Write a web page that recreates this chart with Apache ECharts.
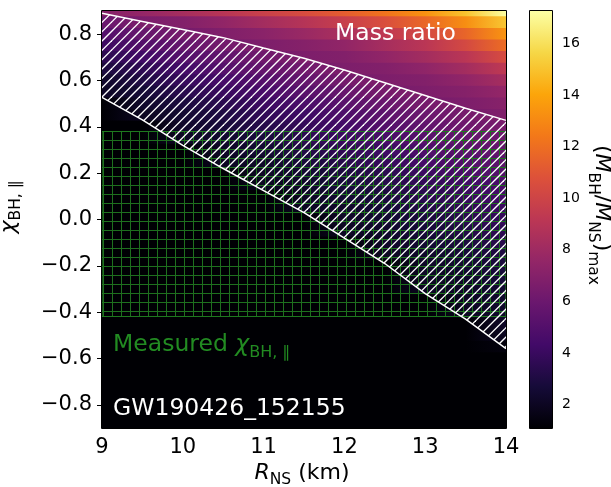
<!DOCTYPE html>
<html>
<head>
<meta charset="utf-8">
<title>Mass ratio</title>
<script src="https://cdn.jsdelivr.net/npm/echarts@6.0.0/dist/echarts.min.js"></script>
<style>
  html, body { margin: 0; padding: 0; background: #fff; }
  #main { width: 611px; height: 487px; }
</style>
</head>
<body>
<div id="main"></div>
<script>
var FONT = 'DejaVu Sans';

// neutron star radius columns (km)
var radius = [9, 9.5, 10, 10.5, 11, 11.5, 12, 12.5, 13, 13.5, 14];
// black hole aligned spin rows, top to bottom
var chiRows = [0.9, 0.85, 0.8, 0.75, 0.7, 0.65, 0.6, 0.55, 0.5, 0.45, 0.4, 0.35, 0.3, 0.25, 0.2, 0.15, 0.1, 0.05, 0,
  -0.05, -0.1, -0.15, -0.2, -0.25, -0.3, -0.35, -0.4, -0.45, -0.5, -0.55, -0.6, -0.65, -0.7, -0.75, -0.8, -0.85, -0.9];
// (M_BH/M_NS)_max : one line per chi row, one value per radius column
var massRatio = [
  [7.0, 7.6, 8.3, 9.0, 9.8, 10.5, 11.3, 12.2, 13.3, 15.0, 17.2],
  [5.9, 6.6, 6.9, 7.5, 8.2, 8.9, 9.7, 10.6, 11.7, 13.2, 15.1],
  [5.0, 5.8, 6.4, 6.8, 7.2, 7.8, 8.5, 9.3, 10.3, 11.6, 13.4],
  [4.1, 5.0, 5.7, 6.3, 6.7, 7.0, 7.5, 8.3, 9.1, 10.3, 11.9],
  [3.5, 4.3, 5.1, 5.6, 6.2, 6.7, 6.9, 7.5, 8.2, 9.1, 10.5],
  [2.9, 3.6, 4.4, 5.1, 5.7, 6.2, 6.7, 6.9, 7.4, 8.2, 9.3],
  [2.3, 3.1, 3.9, 4.5, 5.1, 5.7, 6.3, 6.7, 6.9, 7.5, 8.3],
  [2.1, 2.6, 3.4, 4.0, 4.6, 5.2, 5.8, 6.4, 6.7, 7.0, 7.6],
  [1.1, 2.3, 2.9, 3.5, 4.1, 4.7, 5.3, 5.9, 6.4, 6.7, 7.1],
  [1.1, 2.0, 2.5, 3.1, 3.7, 4.2, 4.8, 5.4, 6.0, 6.4, 6.8],
  [1.1, 1.1, 2.3, 2.8, 3.3, 3.8, 4.4, 5.0, 5.6, 6.1, 6.5],
  [1.1, 1.1, 2.1, 2.4, 2.9, 3.5, 4.1, 4.6, 5.2, 5.7, 6.1],
  [1.1, 1.1, 1.1, 2.2, 2.6, 3.1, 3.7, 4.2, 4.8, 5.3, 5.8],
  [1.1, 1.1, 1.1, 2.0, 2.3, 2.8, 3.4, 3.9, 4.5, 5.0, 5.4],
  [1.1, 1.1, 1.1, 1.1, 2.2, 2.5, 3.0, 3.5, 4.1, 4.7, 5.1],
  [1.1, 1.1, 1.1, 1.1, 2.0, 2.3, 2.8, 3.3, 3.8, 4.3, 4.7],
  [1.1, 1.1, 1.1, 1.1, 1.1, 2.1, 2.5, 2.9, 3.5, 4.0, 4.5],
  [1.1, 1.1, 1.1, 1.1, 1.1, 2.0, 2.3, 2.7, 3.2, 3.7, 4.1],
  [1.1, 1.1, 1.1, 1.1, 1.1, 1.1, 2.2, 2.5, 2.9, 3.5, 3.9],
  [1.1, 1.1, 1.1, 1.1, 1.1, 1.1, 2.0, 2.3, 2.8, 3.2, 3.6],
  [1.1, 1.1, 1.1, 1.1, 1.1, 1.1, 1.1, 2.2, 2.5, 2.9, 3.4],
  [1.1, 1.1, 1.1, 1.1, 1.1, 1.1, 1.1, 2.0, 2.3, 2.7, 3.1],
  [1.1, 1.1, 1.1, 1.1, 1.1, 1.1, 1.1, 1.1, 2.2, 2.5, 2.9],
  [1.1, 1.1, 1.1, 1.1, 1.1, 1.1, 1.1, 1.1, 2.1, 2.3, 2.7],
  [1.1, 1.1, 1.1, 1.1, 1.1, 1.1, 1.1, 1.1, 2.0, 2.2, 2.5],
  [1.1, 1.1, 1.1, 1.1, 1.1, 1.1, 1.1, 1.1, 1.1, 2.1, 2.4],
  [1.1, 1.1, 1.1, 1.1, 1.1, 1.1, 1.1, 1.1, 1.1, 2.0, 2.3],
  [1.1, 1.1, 1.1, 1.1, 1.1, 1.1, 1.1, 1.1, 1.1, 1.1, 2.2],
  [1.1, 1.1, 1.1, 1.1, 1.1, 1.1, 1.1, 1.1, 1.1, 1.1, 2.0],
  [1.1, 1.1, 1.1, 1.1, 1.1, 1.1, 1.1, 1.1, 1.1, 1.1, 1.4],
  [1.1, 1.1, 1.1, 1.1, 1.1, 1.1, 1.1, 1.1, 1.1, 1.1, 1.1],
  [1.1, 1.1, 1.1, 1.1, 1.1, 1.1, 1.1, 1.1, 1.1, 1.1, 1.1],
  [1.1, 1.1, 1.1, 1.1, 1.1, 1.1, 1.1, 1.1, 1.1, 1.1, 1.1],
  [1.1, 1.1, 1.1, 1.1, 1.1, 1.1, 1.1, 1.1, 1.1, 1.1, 1.1],
  [1.1, 1.1, 1.1, 1.1, 1.1, 1.1, 1.1, 1.1, 1.1, 1.1, 1.1],
  [1.1, 1.1, 1.1, 1.1, 1.1, 1.1, 1.1, 1.1, 1.1, 1.1, 1.1],
  [1.1, 1.1, 1.1, 1.1, 1.1, 1.1, 1.1, 1.1, 1.1, 1.1, 1.1]
];
// boundaries of the hatched band, at the radius columns
var upperChi = [0.89, 0.855, 0.82, 0.785, 0.74, 0.696, 0.645, 0.59, 0.535, 0.48, 0.428];
var lowerChi = [0.527, 0.43, 0.32, 0.22, 0.125, 0.03, -0.08, -0.19, -0.32, -0.43, -0.557];
// measured chi_BH interval
var measuredChi = [-0.417, 0.382];

var yTicks = [-0.8, -0.6, -0.4, -0.2, 0, 0.2, 0.4, 0.6, 0.8];
var cbRange = [1.1, 17.25];
var cbTicks = [2, 4, 6, 8, 10, 12, 14, 16];

var inferno = ['#000004', '#160b39', '#420a68', '#6a176e', '#932667', '#bc3754',
  '#dd513a', '#f37819', '#fca50a', '#f6d746', '#fcffa4'];

function toColor(v) {
  var t = (v - cbRange[0]) / (cbRange[1] - cbRange[0]);
  t = Math.max(0, Math.min(1, t));
  return echarts.color.lerp(t, inferno);
}

// hatch tiles
function diagTile() {
  var s = 28, c = document.createElement('canvas');
  c.width = s; c.height = s;
  var g = c.getContext('2d');
  g.strokeStyle = '#ffffff';
  g.lineWidth = 1.3;
  for (var k = -1; k <= 7; k++) {
    var d = 3 + k * s / 3;
    g.beginPath();
    g.moveTo(d + 2, -2);
    g.lineTo(-2, d + 2);
    g.stroke();
  }
  return c;
}
function crossTile() {
  var s = 9, c = document.createElement('canvas');
  c.width = s; c.height = s;
  var g = c.getContext('2d');
  g.strokeStyle = 'rgb(30,112,30)';
  g.lineWidth = 1;
  g.beginPath();
  g.moveTo(4.5, 0); g.lineTo(4.5, s);
  g.moveTo(0, 5.5); g.lineTo(s, 5.5);
  g.stroke();
  return c;
}
var diagPattern = {image: diagTile(), repeat: 'repeat'};
var crossPattern = {image: crossTile(), repeat: 'repeat'};

// text made of pieces (main text + subscripts)
var measureCtx = document.createElement('canvas').getContext('2d');
function mathText(pieces, x, y, rot, align, color) {
  var widths = pieces.map(function (p) {
    measureCtx.font = (p.italic ? 'italic ' : '') + p.size + 'px "' + FONT + '"';
    return measureCtx.measureText(p.t).width;
  });
  var total = widths.reduce(function (a, b) { return a + b; }, 0);
  var cx = align === 'center' ? -total / 2 : 0;
  var children = pieces.map(function (p, i) {
    var el = {
      type: 'text', x: cx, y: p.dy || 0, z: 50, silent: true,
      style: {
        text: p.t, fontSize: p.size, fontFamily: FONT,
        fontStyle: p.italic ? 'italic' : 'normal',
        fill: color, align: 'left', verticalAlign: 'middle'
      }
    };
    cx += widths[i];
    return el;
  });
  return {type: 'group', x: x, y: y, rotation: rot || 0, z: 50, children: children};
}

var GRID = {left: 102, top: 11, width: 404, height: 417};
var CBAR = {left: 530, top: 11, width: 22, height: 417};

var chart = echarts.init(document.getElementById('main'));

var option = {
  animation: false,
  backgroundColor: '#ffffff',
  textStyle: {fontFamily: FONT},
  grid: [
    {left: GRID.left, top: GRID.top, width: GRID.width, height: GRID.height},
    {left: CBAR.left, top: CBAR.top, width: CBAR.width, height: CBAR.height}
  ],
  xAxis: [{
    type: 'value', gridIndex: 0, min: 9, max: 14, interval: 1,
    axisLine: {show: false},
    axisTick: {show: true, inside: false, length: 5, lineStyle: {color: '#000', width: 1}},
    axisLabel: {color: '#000', fontSize: 21, margin: 9},
    splitLine: {show: false}
  }, {
    type: 'value', gridIndex: 1, min: 0, max: 1, show: false
  }],
  yAxis: [{
    type: 'value', gridIndex: 0, min: -0.9, max: 0.9,
    axisLine: {show: false},
    axisTick: {show: true, inside: false, length: 5, customValues: yTicks, lineStyle: {color: '#000', width: 1}},
    axisLabel: {
      color: '#000', fontSize: 21, margin: 10, customValues: yTicks,
      formatter: function (v) { return v.toFixed(1).replace('-', '\u2212'); }
    },
    splitLine: {show: false}
  }, {
    type: 'value', gridIndex: 1, position: 'right', min: cbRange[0], max: cbRange[1],
    axisLine: {show: false},
    axisTick: {show: true, inside: false, length: 5, customValues: cbTicks, lineStyle: {color: '#000', width: 1}},
    axisLabel: {color: '#000', fontSize: 14, margin: 10, customValues: cbTicks},
    splitLine: {show: false}
  }],
  series: [
    {
      // mass-ratio map, one strip per chi row
      type: 'custom', xAxisIndex: 0, yAxisIndex: 0, z: 1, clip: true, silent: true,
      data: chiRows.map(function (c) { return [radius[0], c]; }),
      renderItem: function (params, api) {
        var i = params.dataIndex;
        var chi = chiRows[i];
        var p0 = api.coord([radius[0], chi + 0.025]);
        var p1 = api.coord([radius[radius.length - 1], chi - 0.025]);
        var span = radius[radius.length - 1] - radius[0];
        var stops = radius.map(function (r, j) {
          return {offset: (r - radius[0]) / span, color: toColor(massRatio[i][j])};
        });
        return {
          type: 'rect',
          shape: {x: p0[0], y: p0[1] - 0.5, width: p1[0] - p0[0], height: p1[1] - p0[1] + 1},
          style: {fill: new echarts.graphic.LinearGradient(0, 0, 1, 0, stops)}
        };
      }
    },
    {
      // measured spin band, '+' hatch
      type: 'custom', xAxisIndex: 0, yAxisIndex: 0, z: 2, clip: true, silent: true,
      data: [[radius[0], measuredChi[0]]],
      renderItem: function (params, api) {
        var p0 = api.coord([radius[0], measuredChi[1]]);
        var p1 = api.coord([radius[radius.length - 1], measuredChi[0]]);
        return {
          type: 'rect',
          shape: {x: p0[0], y: Math.round(p0[1]) + 0.5, width: p1[0] - p0[0], height: Math.round(p1[1] - p0[1])},
          style: {fill: crossPattern, stroke: 'rgb(30,120,30)', lineWidth: 1.2}
        };
      }
    },
    {
      // band between the two curves, '/' hatch
      type: 'custom', xAxisIndex: 0, yAxisIndex: 0, z: 3, clip: true, silent: true,
      data: [[radius[0], upperChi[0]]],
      renderItem: function (params, api) {
        var pts = [];
        for (var j = 0; j < radius.length; j++) pts.push(api.coord([radius[j], upperChi[j]]));
        for (j = radius.length - 1; j >= 0; j--) pts.push(api.coord([radius[j], lowerChi[j]]));
        return {type: 'polygon', shape: {points: pts}, style: {fill: diagPattern}};
      }
    },
    {
      type: 'line', xAxisIndex: 0, yAxisIndex: 0, z: 4, silent: true, symbol: 'none',
      lineStyle: {color: '#ffffff', width: 1.5},
      data: radius.map(function (r, j) { return [r, upperChi[j]]; })
    },
    {
      type: 'line', xAxisIndex: 0, yAxisIndex: 0, z: 4, silent: true, symbol: 'none',
      lineStyle: {color: '#ffffff', width: 1.5},
      data: radius.map(function (r, j) { return [r, lowerChi[j]]; })
    },
    {
      // colorbar
      type: 'custom', xAxisIndex: 1, yAxisIndex: 1, z: 1, silent: true,
      data: [[0, cbRange[0]]],
      renderItem: function (params, api) {
        var p0 = api.coord([0, cbRange[1]]);
        var p1 = api.coord([1, cbRange[0]]);
        var stops = inferno.map(function (c, i) { return {offset: i / (inferno.length - 1), color: c}; });
        return {
          type: 'rect',
          shape: {x: p0[0], y: p0[1], width: p1[0] - p0[0], height: p1[1] - p0[1]},
          style: {fill: new echarts.graphic.LinearGradient(0, 1, 0, 0, stops)}
        };
      }
    }
  ],
  graphic: [
    {type: 'rect', z: 60, silent: true,
     shape: {x: GRID.left - 0.5, y: GRID.top - 0.5, width: GRID.width + 1, height: GRID.height + 1},
     style: {fill: null, stroke: '#000', lineWidth: 1}},
    {type: 'rect', z: 60, silent: true,
     shape: {x: CBAR.left - 0.5, y: CBAR.top - 0.5, width: CBAR.width + 1, height: CBAR.height + 1},
     style: {fill: null, stroke: '#000', lineWidth: 1}},
    mathText([{t: 'Mass ratio', size: 23.5}], 335, 34, 0, 'left', '#ffffff'),
    mathText([
      {t: 'Measured ', size: 23.5},
      {t: '\u03c7', size: 23.5, italic: true},
      {t: 'BH, \u2225', size: 16, dy: 8}
    ], 113, 345, 0, 'left', '#228b22'),
    mathText([{t: 'GW190426_152155', size: 23.5}], 113, 409, 0, 'left', '#ffffff'),
    mathText([
      {t: 'R', size: 22, italic: true},
      {t: 'NS', size: 15.5, dy: 7},
      {t: ' (km)', size: 22}
    ], 302, 473, 0, 'center', '#000'),
    mathText([
      {t: '\u03c7', size: 22, italic: true},
      {t: 'BH, \u2225', size: 15.5, dy: 7}
    ], 9, 207, Math.PI / 2, 'center', '#000'),
    mathText([
      {t: '(', size: 22},
      {t: 'M', size: 22, italic: true},
      {t: 'BH', size: 15.5, dy: 8},
      {t: '/', size: 22},
      {t: 'M', size: 22, italic: true},
      {t: 'NS', size: 15.5, dy: 8},
      {t: ')', size: 22},
      {t: 'max', size: 15.5, dy: 8}
    ], 601.5, 215, -Math.PI / 2, 'center', '#000')
  ]
};

chart.setOption(option);
</script>
</body>
</html>
